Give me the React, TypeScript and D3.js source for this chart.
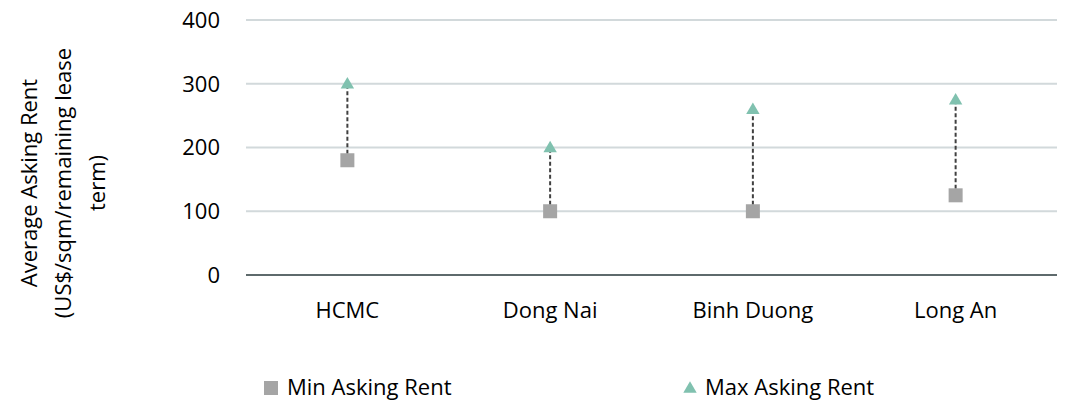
import React from "react";
import * as d3 from "d3";

const categories = ["HCMC", "Dong Nai", "Binh Duong", "Long An"];
const minRent = [180, 100, 100, 125];
const maxRent = [300, 200, 260, 275];
const yTicks = [0, 100, 200, 300, 400];
const seriesNames = ["Min Asking Rent", "Max Asking Rent"];
const yTitleLines = ["Average Asking Rent", "(US$/sqm/remaining lease", "term)"];

const W = 1074;
const H = 401;
const FONT = "'Open Sans', sans-serif";
const MIN_COLOR = "#A5A5A5";
const MAX_COLOR = "#80C1AF";

export default function App() {
  const x = d3.scaleBand<string>().domain(categories).range([246, 1057]).padding(0);
  const y = d3.scaleLinear().domain([0, 400]).range([275, 20]);
  const cx = (c: string) => (x(c) as number) + x.bandwidth() / 2;

  const sq = 14;
  const tri = d3.symbol().type(d3.symbolTriangle).size(78);

  return (
    <svg
      width={W}
      height={H}
      style={{ position: "absolute", left: 0, top: 0, background: "#fff" }}
      fontFamily={FONT}
    >
      {/* gridlines */}
      {yTicks.map((t) => (
        <line
          key={t}
          x1={246}
          x2={1057}
          y1={y(t)}
          y2={y(t)}
          stroke={t === 0 ? "#5E6A6C" : "#D2D9DB"}
          strokeWidth={2}
        />
      ))}
      {/* y tick labels */}
      {yTicks.map((t) => (
        <text
          key={"l" + t}
          x={220}
          y={y(t)}
          dy="0.36em"
          textAnchor="end"
          fontSize={22}
          fill="#000"
        >
          {t}
        </text>
      ))}
      {/* y axis title */}
      {yTitleLines.map((line, i) => (
        <text
          key={line}
          transform={`translate(${37 + i * 34},183) rotate(-90)`}
          textAnchor="middle"
          fontSize={22}
          fill="#000"
        >
          {line}
        </text>
      ))}
      {/* category labels */}
      {categories.map((c) => (
        <text key={"c" + c} x={cx(c)} y={318} textAnchor="middle" fontSize={22} fill="#000">
          {c}
        </text>
      ))}
      {/* range connectors */}
      {categories.map((c, i) => (
        <line
          key={"d" + c}
          x1={cx(c)}
          x2={cx(c)}
          y1={y(minRent[i])}
          y2={y(maxRent[i])}
          stroke="#404040"
          strokeWidth={2}
          strokeDasharray="4,2.5"
        />
      ))}
      {/* min markers */}
      {categories.map((c, i) => (
        <rect
          key={"m" + c}
          x={cx(c) - sq / 2}
          y={y(minRent[i]) - sq / 2}
          width={sq}
          height={sq}
          fill={MIN_COLOR}
        />
      ))}
      {/* max markers */}
      {categories.map((c, i) => (
        <path
          key={"t" + c}
          d={tri() as string}
          transform={`translate(${cx(c)},${y(maxRent[i]) + 1})`}
          fill={MAX_COLOR}
        />
      ))}
      {/* legend */}
      <rect x={264} y={381} width={14} height={14} fill={MIN_COLOR} />
      <text x={287} y={395} fontSize={22} fill="#000">
        {seriesNames[0]}
      </text>
      <path d={tri() as string} transform="translate(690,389)" fill={MAX_COLOR} />
      <text x={705} y={395} fontSize={22} fill="#000">
        {seriesNames[1]}
      </text>
    </svg>
  );
}
